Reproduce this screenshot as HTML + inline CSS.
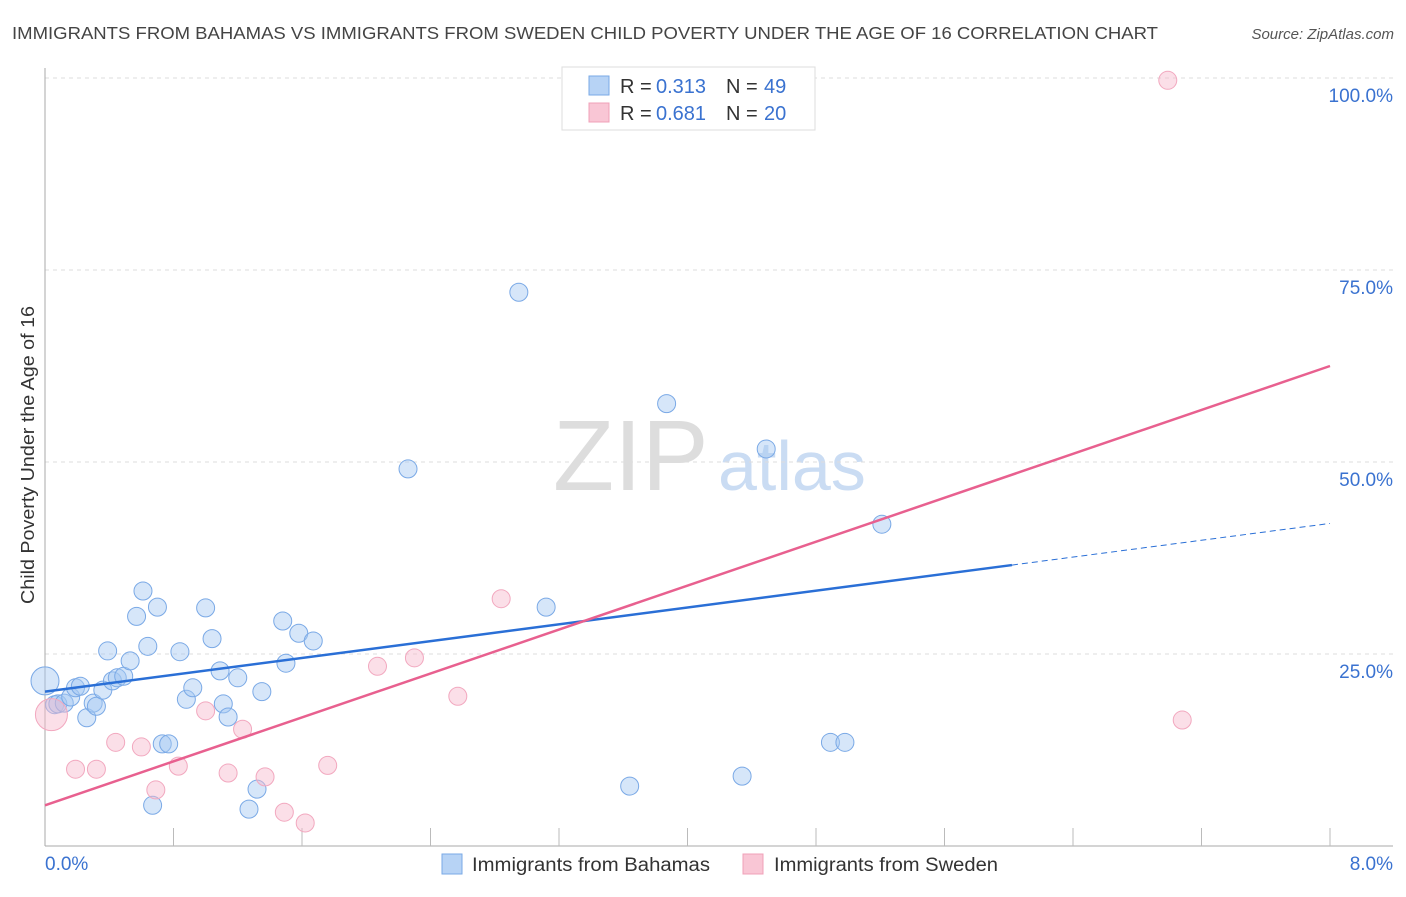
<!DOCTYPE html>
<html><head><meta charset="utf-8"><style>
body{margin:0;background:#fff;font-family:"Liberation Sans",sans-serif;}
svg text{font-family:"Liberation Sans",sans-serif;}
</style></head><body>
<svg id="chart" width="1406" height="892">
<text x="12" y="39" font-size="17.5" fill="#444" textLength="1146" lengthAdjust="spacingAndGlyphs">IMMIGRANTS FROM BAHAMAS VS IMMIGRANTS FROM SWEDEN CHILD POVERTY UNDER THE AGE OF 16 CORRELATION CHART</text>
<text x="1394" y="39" font-size="15" fill="#555" font-style="italic" text-anchor="end">Source: ZipAtlas.com</text>
<g><text x="553" y="490" font-size="100" fill="#ddd" font-family="Liberation Serif,serif">ZIP</text><text x="718" y="490" font-size="70" fill="#cadcf3">atlas</text></g>
<g id="grid"></g><g id="axes"></g>
<text transform="translate(34,455) rotate(-90)" font-size="18" fill="#333" text-anchor="middle" textLength="298" lengthAdjust="spacingAndGlyphs">Child Poverty Under the Age of 16</text>
<g id="pts"></g><g id="lines"></g>
<g>
<rect x="562" y="67" width="253" height="63" fill="#fff" stroke="#ddd"/>
<rect x="589" y="76" width="20" height="19" fill="#b7d3f5" stroke="#7aa9e6"/>
<rect x="589" y="103" width="20" height="19" fill="#f9c6d5" stroke="#f0a0b8"/>
<text x="620" y="93" font-size="20" fill="#333">R =</text><text x="656" y="93" font-size="20" fill="#3a72d0">0.313</text>
<text x="726" y="93" font-size="20" fill="#333">N =</text><text x="764" y="93" font-size="20" fill="#3a72d0">49</text>
<text x="620" y="120" font-size="20" fill="#333">R =</text><text x="656" y="120" font-size="20" fill="#3a72d0">0.681</text>
<text x="726" y="120" font-size="20" fill="#333">N =</text><text x="764" y="120" font-size="20" fill="#3a72d0">20</text>
</g>
<g>
<rect x="442" y="854" width="20" height="20" fill="#b7d3f5" stroke="#7aa9e6"/>
<text x="472" y="871" font-size="19" fill="#333" textLength="238" lengthAdjust="spacingAndGlyphs">Immigrants from Bahamas</text>
<rect x="743" y="854" width="20" height="20" fill="#f9c6d5" stroke="#f0a0b8"/>
<text x="774" y="871" font-size="19" fill="#333" textLength="224" lengthAdjust="spacingAndGlyphs">Immigrants from Sweden</text>
</g>
</svg>
<script>
const yTicks=[25,50,75,100];
const yTickLabels=["25.0%","50.0%","75.0%","100.0%"];
const xTickLabels=["0.0%","8.0%"];
const blueX=[0,0.06,0.08,0.12,0.16,0.19,0.22,0.26,0.30,0.32,0.36,0.39,0.42,0.45,0.49,0.53,0.57,0.61,0.64,0.67,0.70,0.73,0.77,0.84,0.88,0.92,1.00,1.04,1.09,1.11,1.14,1.20,1.27,1.32,1.35,1.48,1.50,1.58,1.67,2.26,2.95,3.12,3.64,3.87,4.34,4.49,4.89,4.98,5.21];
const blueY=[21.5,18.4,18.5,18.6,19.4,20.6,20.8,16.7,18.6,18.2,20.3,25.4,21.5,21.9,22.1,24.1,29.9,33.2,26.0,5.3,31.1,13.3,13.3,25.3,19.1,20.6,31.0,27.0,22.8,18.5,16.8,21.9,4.8,7.4,20.1,29.3,23.8,27.7,26.7,49.1,72.1,31.1,7.8,57.6,9.1,51.7,13.5,13.5,41.9];
const pinkX=[0.04,0.19,0.32,0.44,0.60,0.69,0.83,1.00,1.14,1.23,1.37,1.49,1.62,1.76,2.07,2.30,2.57,2.84,6.99,7.08];
const pinkY=[17.1,10.0,10.0,13.5,12.9,7.3,10.4,17.6,9.5,15.2,9.0,4.4,3.0,10.5,23.4,24.5,19.5,32.2,99.7,16.4];
const blueTrend=[20.1,42.0]; const blueSolidEnd=6.02;
const pinkTrend=[5.3,62.5];
const X=v=>45+v/8*1285, Y=v=>846-v*7.68;
const NS="http://www.w3.org/2000/svg";
function mk(t,a,p){const e=document.createElementNS(NS,t);for(const k in a)e.setAttribute(k,a[k]);p.appendChild(e);return e;}
const grid=document.getElementById('grid'),axes=document.getElementById('axes');
yTicks.forEach((t,i)=>{const g=mk('line',{x1:45,x2:1393,y1:Y(t),y2:Y(t),stroke:'#ddd','stroke-dasharray':'4,4'},grid);


const l=mk('text',{x:1393,y:Y(t)+24,'font-size':19,fill:'#3a72d0','text-anchor':'end'},axes);l.textContent=yTickLabels[i];

});
mk('line',{x1:45,x2:45,y1:68,y2:846,stroke:'#aaa'},axes);
mk('line',{x1:45,x2:1393,y1:846,y2:846,stroke:'#aaa'},axes);
for(let i=1;i<=10;i++){const t=mk('line',{x1:45+i*128.5,x2:45+i*128.5,y1:828,y2:846,stroke:'#bbb'},axes);

}
const xl0=mk('text',{x:45,y:870,'font-size':19,fill:'#3a72d0'},axes);xl0.textContent=xTickLabels[0];


const xl1=mk('text',{x:1393,y:870,'font-size':19,fill:'#3a72d0','text-anchor':'end'},axes);xl1.textContent=xTickLabels[1];


const pts=document.getElementById('pts');
blueX.forEach((x,i)=>{const c=mk('circle',{cx:X(x),cy:Y(blueY[i]),r:i==0?14:9,fill:'rgba(165,200,242,0.45)',stroke:'#7aa9e6','stroke-width':1},pts);

});
pinkX.forEach((x,i)=>{const c=mk('circle',{cx:X(x),cy:Y(pinkY[i]),r:i==0?16:9,fill:'rgba(247,185,205,0.45)',stroke:'#f2a8bf','stroke-width':1},pts);

});
const lines=document.getElementById('lines');
const by=v=>blueTrend[0]+(blueTrend[1]-blueTrend[0])*v/8;
const b1=mk('line',{x1:X(0),y1:Y(by(0)),x2:X(blueSolidEnd),y2:Y(by(blueSolidEnd)),stroke:'#2a6fd6','stroke-width':2.5},lines);


const b2=mk('line',{x1:X(blueSolidEnd),y1:Y(by(blueSolidEnd)),x2:X(8),y2:Y(by(8)),stroke:'#2a6fd6','stroke-width':1,'stroke-dasharray':'6,4'},lines);


const p1=mk('line',{x1:X(0),y1:Y(pinkTrend[0]),x2:X(8),y2:Y(pinkTrend[1]),stroke:'#e8608f','stroke-width':2.5},lines);


</script>
</body></html>
